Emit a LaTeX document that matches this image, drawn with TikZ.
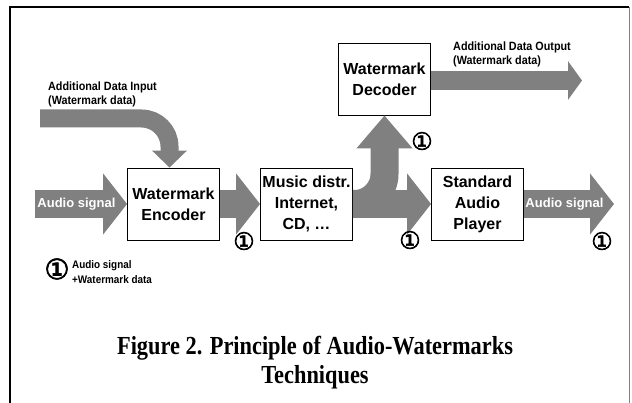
\documentclass[tikz,border=0pt]{standalone}
\usepackage{fontspec}
\setmainfont{Liberation Sans}
\newfontfamily\capfont[FakeStretch=0.86]{Liberation Serif Bold}
\newfontfamily\labfont[FakeStretch=0.9]{Liberation Sans Bold}
\newfontfamily\circfont[FakeBold=2.5]{DejaVu Sans}
\usetikzlibrary{arrows.meta,calc,positioning}
\definecolor{arrowgray}{RGB}{128,128,128}

\tikzset{
	block/.style={draw, line width=0.9pt, fill=white, minimum width=92pt, minimum height=72pt,
		inner sep=1pt, align=center, font=\bfseries\fontsize{16}{21}\selectfont},
	fat/.style={arrowgray, line width=28pt, -{Triangle[width=60pt,length=24pt]}},
	datafat/.style={arrowgray, line width=18pt, -{Triangle[width=34pt,length=17pt]}},
	outfat/.style={arrowgray, line width=19pt, -{Triangle[width=38pt,length=14pt]}},
	upfat/.style={arrowgray, line width=28pt, -{Triangle[width=54pt,length=33pt]}},
	sig/.style={text=white, inner sep=0pt, font=\bfseries\fontsize{13}{15}\selectfont},
	lab/.style={inner sep=0pt, align=left, font=\labfont\fontsize{12}{14}\selectfont},
	circnum/.style={inner sep=0pt, font=\circfont\fontsize{24}{24}\selectfont},
}

\begin{document}
\begin{tikzpicture}[x=1pt,y=-1pt]
		\useasboundingbox (0,0) rectangle (632,403);
		% frame
		\draw[line width=2pt] (10,403) -- (10,7) -- (629,7);
		\draw[gray, line width=0.8pt] (629,7) -- (629,403);

		% blocks
		\node[block] (enc) at (173.5,204) {Watermark\\Encoder};
		\node[block] (dist) at (306.5,204) {Music distr.\\Internet,\\CD, …};
		\node[block] (dec) at (384.5,79) {Watermark\\Decoder};
		\node[block] (play) at (477.5,204) {Standard\\Audio\\Player};

		\coordinate (ain) at (35,204);
		\coordinate (aout) at (614,204);
		\coordinate (din) at (40,118.5);
		\coordinate (dout) at (582,80.5);

		% big arrows
		\draw[fat] (ain) -- node[sig,pos=0.45] {Audio signal} (enc.west);
		\draw[datafat, rounded corners=28pt] (din) -| ([xshift=-4pt]enc.north);
		\draw[fat] (enc.east) -- (dist.west);
		\draw[fat] (dist.east) -- (play.west);
		\draw[upfat, rounded corners=30pt] (dist.east) -| (dec.south);
		\draw[outfat] ([yshift=-1.5pt]dec.east) -- (dout);
		\draw[fat] (play.east) -- node[sig,pos=0.45] {Audio signal} (aout);

		% labels
		\node[lab, anchor=north west] (dinlab) at (48,81.5) {Additional Data Input\\(Watermark data)};
		\node[lab, anchor=north west] (doutlab) at (453,42) {Additional Data Output\\(Watermark data)};
		\node[circnum] (m1) at (244,241) {①};
		\node[circnum] (m2) at (422,141) {①};
		\node[circnum] (m3) at (410,240) {①};
		\node[circnum] (m4) at (602,241) {①};
		%\node[circnum] at (57,269) {①};
		\node[circnum, font=\circfont\fontsize{28}{28}\selectfont] (key) at (57,269) {①};
		\node[lab, anchor=west, font=\labfont\fontsize{11}{14.5}\selectfont] (keylab) at (72,272) {Audio signal\\+Watermark data};

		% caption
		\node[anchor=north, inner sep=0pt, align=center, font=\capfont\fontsize{26}{29}\selectfont] (capt)
			at (315,336) {Figure 2. Principle of Audio-Watermarks\\Techniques};
\end{tikzpicture}
\end{document}
